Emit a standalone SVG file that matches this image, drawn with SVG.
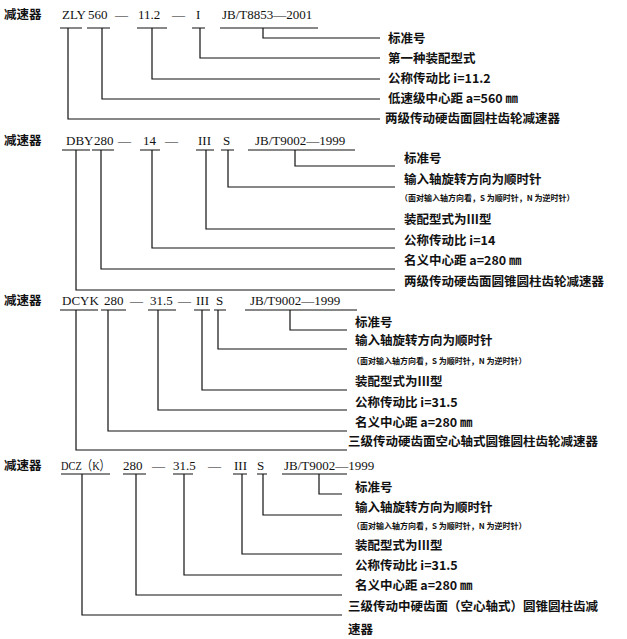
<svg xmlns="http://www.w3.org/2000/svg" width="627" height="639" viewBox="0 0 627 639">
<style>
.c{font-family:"Noto Sans CJK SC","Liberation Serif",serif;font-size:12.5px;fill:#111;font-weight:bold}
.s{font-family:"Noto Sans CJK SC",serif;font-size:8px;fill:#111;font-weight:bold}
.m{font-family:"Liberation Serif","Noto Sans CJK SC",serif;font-size:13px;fill:#111}
path{fill:none;stroke:#111;stroke-width:1.2}
</style>
<rect width="627" height="639" fill="#fff"/>
<g id="h1">
<text class="c" x="4" y="19">减速器</text>
<text class="m" x="62" y="19">ZLY</text><text class="m" x="88" y="19">560</text><text class="m" x="115" y="19">—</text>
<text class="m" x="138" y="19">11.2</text><text class="m" x="172" y="19">—</text><text class="m" x="196" y="19">I</text>
<text class="m" x="222" y="19">JB/T8853—2001</text>
</g>
<g id="l1">
<text class="c" x="388" y="43">标准号</text>
<text class="c" x="388" y="63">第一种装配型式</text>
<text class="c" x="388" y="83">公称传动比 i=11.2</text>
<text class="c" x="388" y="103">低速级中心距 a=560 ㎜</text>
<text class="c" x="385" y="123">两级传动硬齿面圆柱齿轮减速器</text>
</g>
<g id="h2">
<text class="c" x="4" y="145">减速器</text>
<text class="m" x="66" y="145">DBY</text><text class="m" x="94" y="145">280</text><text class="m" x="118" y="145">—</text>
<text class="m" x="143" y="145">14</text><text class="m" x="165" y="145">—</text><text class="m" x="198" y="145">III</text>
<text class="m" x="223" y="145">S</text><text class="m" x="255" y="145">JB/T9002—1999</text>
</g>
<g id="l2">
<text class="c" x="404" y="163">标准号</text>
<text class="c" x="404" y="184">输入轴旋转方向为顺时针</text>
<text class="s" x="400" y="201">（面对输入轴方向看，S 为顺时针，N 为逆时针）</text>
<text class="c" x="404" y="224">装配型式为III型</text>
<text class="c" x="404" y="245">公称传动比 i=14</text>
<text class="c" x="404" y="265">名义中心距 a=280 ㎜</text>
<text class="c" x="404" y="286">两级传动硬齿面圆锥圆柱齿轮减速器</text>
</g>
<g id="h3">
<text class="c" x="4" y="305">减速器</text>
<text class="m" x="62" y="305">DCYK</text><text class="m" x="104" y="305">280</text><text class="m" x="130" y="305">—</text>
<text class="m" x="150" y="305">31.5</text><text class="m" x="178" y="305">—</text><text class="m" x="196" y="305">III</text>
<text class="m" x="216" y="305">S</text><text class="m" x="250" y="305">JB/T9002—1999</text>
</g>
<g id="l3">
<text class="c" x="355" y="327">标准号</text>
<text class="c" x="355" y="345">输入轴旋转方向为顺时针</text>
<text class="s" x="352" y="364">（面对输入轴方向看，S 为顺时针，N 为逆时针）</text>
<text class="c" x="355" y="386">装配型式为III型</text>
<text class="c" x="355" y="407">公称传动比 i=31.5</text>
<text class="c" x="355" y="427">名义中心距 a=280 ㎜</text>
<text class="c" x="348" y="446">三级传动硬齿面空心轴式圆锥圆柱齿轮减速器</text>
</g>
<g id="h4">
<text class="c" x="4" y="470">减速器</text>
<text class="m" x="61" y="470" textLength="49" lengthAdjust="spacingAndGlyphs">DCZ（K）</text><text class="m" x="123" y="470">280</text><text class="m" x="152" y="470">—</text>
<text class="m" x="173" y="470">31.5</text><text class="m" x="208" y="470">—</text><text class="m" x="234" y="470">III</text>
<text class="m" x="257" y="470">S</text><text class="m" x="284" y="470">JB/T9002—1999</text>
</g>
<g id="l4">
<text class="c" x="355" y="492">标准号</text>
<text class="c" x="355" y="512">输入轴旋转方向为顺时针</text>
<text class="s" x="352" y="529">（面对输入轴方向看，S 为顺时针，N 为逆时针）</text>
<text class="c" x="355" y="550">装配型式为III型</text>
<text class="c" x="355" y="570">公称传动比 i=31.5</text>
<text class="c" x="355" y="590">名义中心距 a=280 ㎜</text>
<text class="c" x="348" y="611">三级传动中硬齿面（空心轴式）圆锥圆柱齿减</text>
<text class="c" x="348" y="634">速器</text>
</g>
<g id="connectors">
<path d="M60 28H82M87 28H110M137 28H167M192 28H205M220 28H318"/>
<path d="M263 28V38H380M200 28V58H380M152 28V79H380M102 28V99H380M68 28V119H380"/>
<path d="M62 150H90M92 150H114M140 150H160M196 150H214M221 150H234M248 150H355"/>
<path d="M295 150V166H395M228 150V187H395M206 150V229H395M152 150V248H395M101 150V269H395M76 150V290H395"/>
<path d="M60 310H98M101 310H126M148 310H176M194 310H210M214 310H226M245 310H357"/>
<path d="M290 310V330H347M218 310V349H347M202 310V390H347M158 310V410H347M108 310V431H347M76 310V450H347"/>
<path d="M61 474H110M123 474H146M173 474H193M233 474H247M257 474H267M282 474H347"/>
<path d="M319 474V494H342M263 474V515H342M242 474V554H342M184 474V575H342M136 474V595H342M82 474V615H342"/>
</g>
</svg>
